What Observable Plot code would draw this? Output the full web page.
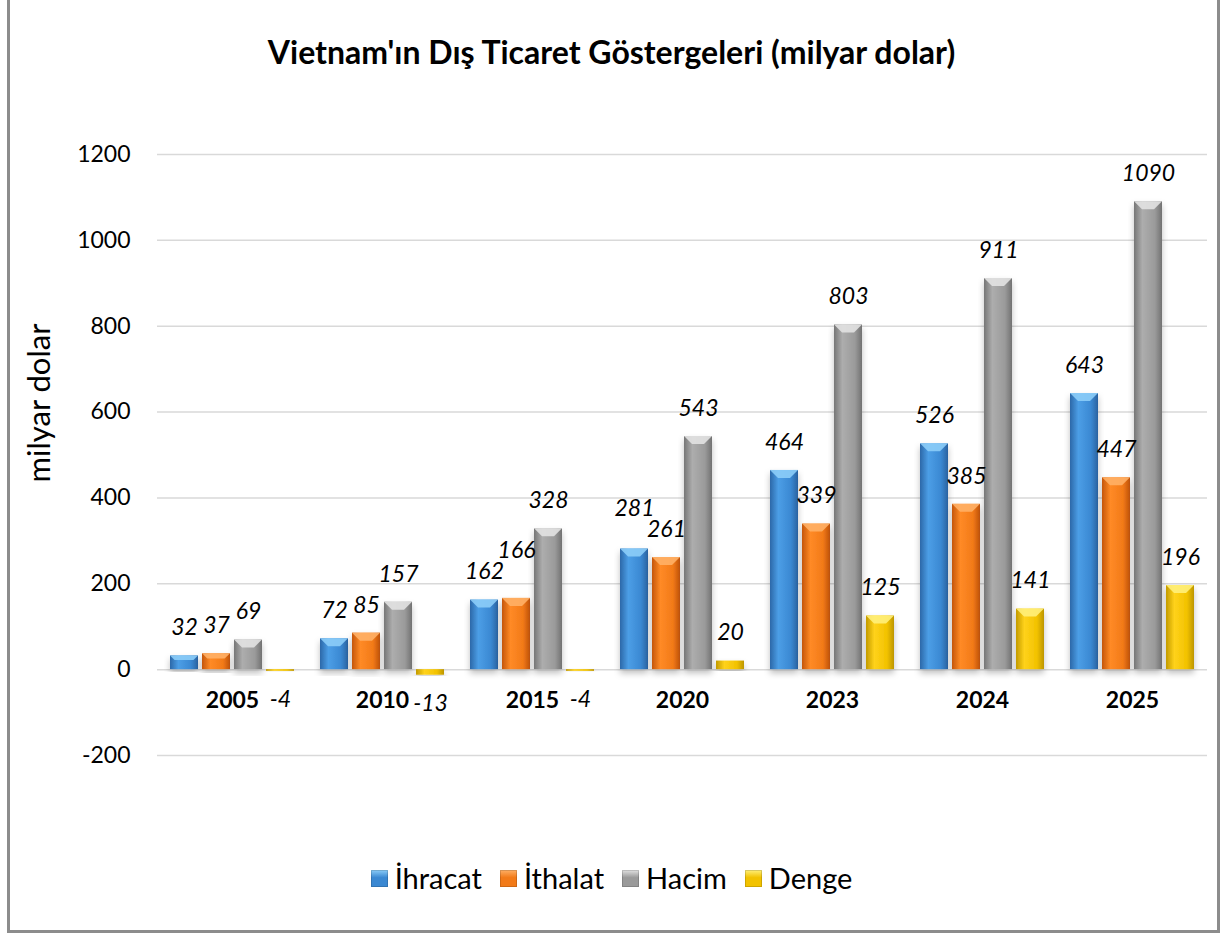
<!DOCTYPE html>
<html><head><meta charset="utf-8">
<script src="https://cdn.jsdelivr.net/npm/d3@7"></script>
<script src="https://cdn.jsdelivr.net/npm/@observablehq/plot@0.6"></script>
<style>
html,body{margin:0;padding:0;background:#fff;}
body{width:1223px;height:936px;position:relative;overflow:hidden;font-family:Lato, "Open Sans", sans-serif;}
#frame{position:absolute;left:7px;top:-3px;width:1213px;height:936px;border:3.5px solid #8c8c8c;box-sizing:border-box;}
#title{position:absolute;left:0;width:1223px;top:32px;text-align:center;font-weight:bold;font-size:32px;line-height:40px;color:#000;}
#ylab{position:absolute;left:38px;top:403px;transform:translate(-50%,-50%) rotate(-90deg);font-size:31px;white-space:nowrap;color:#000;}
#chart{position:absolute;left:0;top:100px;}
#legend{position:absolute;left:0;width:1223px;top:858px;display:flex;justify-content:center;font-size:29px;line-height:40px;color:#000;}
.item{display:flex;align-items:center;margin:0 9px;}
.sw{width:17px;height:17px;margin-right:7px;}
</style>
</head><body>
<svg width="0" height="0" style="position:absolute">
<defs>
<linearGradient id="g0" x1="0" x2="1" y1="0" y2="0"><stop offset="0" stop-color="#2c68a8"/><stop offset="0.3" stop-color="#4c9ee6"/><stop offset="0.75" stop-color="#3a88d2"/><stop offset="1" stop-color="#2a62a0"/></linearGradient>
<linearGradient id="g1" x1="0" x2="1" y1="0" y2="0"><stop offset="0" stop-color="#c4560a"/><stop offset="0.3" stop-color="#ff8a26"/><stop offset="0.75" stop-color="#f27a18"/><stop offset="1" stop-color="#bf520a"/></linearGradient>
<linearGradient id="g2" x1="0" x2="1" y1="0" y2="0"><stop offset="0" stop-color="#767676"/><stop offset="0.3" stop-color="#adadad"/><stop offset="0.75" stop-color="#9a9a9a"/><stop offset="1" stop-color="#727272"/></linearGradient>
<linearGradient id="g3" x1="0" x2="1" y1="0" y2="0"><stop offset="0" stop-color="#c29a00"/><stop offset="0.3" stop-color="#ffd21a"/><stop offset="0.75" stop-color="#f2c200"/><stop offset="1" stop-color="#bd9600"/></linearGradient>
<filter id="shadow" x="-20%" y="-20%" width="140%" height="140%"><feDropShadow dx="0" dy="4" stdDeviation="3" flood-color="#000" flood-opacity="0.25"/></filter>
</defs>
</svg>
<div id="frame"></div>
<div id="title">Vietnam'ın Dış Ticaret Göstergeleri (milyar dolar)</div>
<div id="ylab">milyar dolar</div>
<div id="chart"></div>
<div id="legend"></div>
<script>
const years = ["2005","2010","2015","2020","2023","2024","2025"];
const series = ["İhracat","İthalat","Hacim","Denge"];
const ihracat = [32,72,162,281,464,526,643];
const ithalat = [37,85,166,261,339,385,447];
const hacim = [69,157,328,543,803,911,1090];
const denge = [-4,-13,-4,20,125,141,196];
const yTicks = [-200,0,200,400,600,800,1000,1200];

const gradIds = ["url(#g0)","url(#g1)","url(#g2)","url(#g3)"];
const capColors = ["#8ccdf8","#ffb066","#e2e2e2","#fff07a"];
const swatchColors = ["#3a88d2","#f27a18","#9a9a9a","#f2c200"];

const allVals = [ihracat, ithalat, hacim, denge];
const data = [];
years.forEach((yr, i) => series.forEach((s, j) => data.push({year: yr, series: s, value: allVals[j][i]})));

const chart = Plot.plot({
  width: 1223,
  height: 700,
  marginTop: 54,
  marginBottom: 45,
  marginLeft: 157,
  marginRight: 16,
  style: {fontFamily: "Lato, 'Open Sans', sans-serif", color: "#000", background: "transparent"},
  fx: {domain: years, paddingInner: 0, paddingOuter: 0, axis: null},
  x: {domain: series, paddingInner: 0.12, paddingOuter: 0.35, axis: null},
  y: {domain: [-200, 1200], axis: null},
  color: {domain: series, range: gradIds},
  marks: [
    Plot.ruleY(yTicks, {stroke: "#d9d9d9", strokeWidth: 1.5}),
    Plot.axisY({ticks: yTicks, tickFormat: d => String(d), tickSize: 0, tickPadding: 27, fontSize: 23, label: null, anchor: "left"}),
    Plot.barY(data, {fx: "year", x: "series", y: "value", fill: "series"}),
    Plot.text(data.filter(d => d.value >= 0), {fx: "year", x: "series", y: "value", text: d => String(d.value), dy: -28, fontSize: 23, fontStyle: "italic", fill: "#000", ariaLabel: () => "vlabel"}),
    Plot.text(data.filter(d => d.value < 0), {fx: "year", x: "series", y: "value", text: d => String(d.value), dy: 28, fontSize: 23, fontStyle: "italic", fill: "#000"}),
    Plot.text(years, {fx: d => d, y: () => 0, text: d => d, dy: 31, fontSize: 23, fontWeight: "bold", fill: "#000"})
  ]
});
document.getElementById("chart").appendChild(chart);

// bevel caps on bars, derived from rendered positions
chart.querySelectorAll('g[aria-label="bar"] rect').forEach((r) => {
  const fill = r.getAttribute("fill") || "";
  const k = gradIds.indexOf(fill);
  r.setAttribute("filter", "url(#shadow)");
  const x = +r.getAttribute("x"), y = +r.getAttribute("y"), w = +r.getAttribute("width"), h = +r.getAttribute("height");
  if (k < 0 || h < 12) return;
  const c = Math.min(8, h / 3);
  const p = document.createElementNS("http://www.w3.org/2000/svg", "polygon");
  p.setAttribute("points", `${x},${y} ${x + w},${y} ${x + w - c},${y + c} ${x + c},${y + c}`);
  p.setAttribute("fill", capColors[k]);
  p.setAttribute("opacity", "0.9");
  r.parentNode.appendChild(p);
});

// simple label collision avoidance (like the spreadsheet's): lift the taller neighbour's label
const labels = Array.from(chart.querySelectorAll('g[aria-label="text"] text'))
  .filter(t => /^\d+$/.test(t.textContent) && !years.includes(t.textContent));
labels.sort((a, b) => a.getBoundingClientRect().x - b.getBoundingClientRect().x);
const lift = 21;
for (let i = 1; i < labels.length; i++) {
  const a = labels[i - 1], b = labels[i];
  const ba = a.getBoundingClientRect(), bb = b.getBoundingClientRect();
  const xOverlap = Math.min(ba.right, bb.right) - Math.max(ba.left, bb.left);
  const ya = ba.top + ba.height / 2, yb = bb.top + bb.height / 2;
  if (xOverlap > -4 && Math.abs(ya - yb) < lift) {
    const va = +a.textContent, vb = +b.textContent;
    const mover = vb >= va ? b : a, other = mover === b ? a : b;
    const ro = other.getBoundingClientRect(), rm = mover.getBoundingClientRect();
    const shift = (ro.top + ro.height / 2) - lift - (rm.top + rm.height / 2);
    const t = mover.getAttribute("transform") || "";
    mover.setAttribute("transform", `translate(0,${shift}) ` + t);
  }
}

const legend = document.getElementById("legend");
series.forEach((s, j) => {
  const it = document.createElement("div"); it.className = "item";
  const sw = document.createElement("div"); sw.className = "sw";
  sw.style.background = `linear-gradient(180deg, ${capColors[j]} 0%, ${swatchColors[j]} 45%, ${swatchColors[j]} 100%)`;
  sw.style.boxShadow = "inset 0 0 0 1px rgba(0,0,0,0.15)";
  const t = document.createElement("span"); t.textContent = s;
  it.appendChild(sw); it.appendChild(t); legend.appendChild(it);
});
</script>
</body></html>
